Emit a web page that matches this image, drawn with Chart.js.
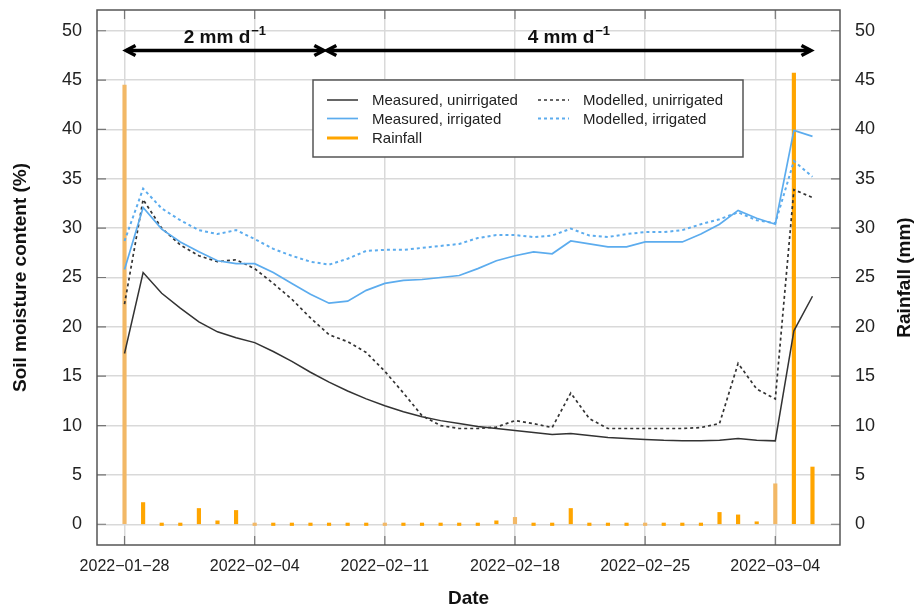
<!DOCTYPE html>
<html>
<head>
<meta charset="utf-8">
<script src="https://cdn.jsdelivr.net/npm/chart.js@4.4.1/dist/chart.umd.min.js"></script>
<style>
  html, body { margin: 0; padding: 0; background: #fff; }
</style>
</head>
<body>
<canvas id="soilChart" width="918" height="606"></canvas>
<script>
// daily dates, 2022-01-28 .. 2022-03-06
const dates = [
  "2022-01-28", "2022-01-29", "2022-01-30", "2022-01-31", "2022-02-01", "2022-02-02", "2022-02-03",
  "2022-02-04", "2022-02-05", "2022-02-06", "2022-02-07", "2022-02-08", "2022-02-09", "2022-02-10",
  "2022-02-11", "2022-02-12", "2022-02-13", "2022-02-14", "2022-02-15", "2022-02-16", "2022-02-17",
  "2022-02-18", "2022-02-19", "2022-02-20", "2022-02-21", "2022-02-22", "2022-02-23", "2022-02-24",
  "2022-02-25", "2022-02-26", "2022-02-27", "2022-02-28", "2022-03-01", "2022-03-02", "2022-03-03",
  "2022-03-04", "2022-03-05", "2022-03-06"
];
const measuredUnirrigated = [
  17.3, 25.5, 23.4, 21.9, 20.5, 19.5, 18.9, 18.4, 17.5, 16.5, 15.4, 14.4, 13.5, 12.7,
  12.0, 11.4, 10.9, 10.5, 10.2, 9.9, 9.7, 9.5, 9.3, 9.1, 9.2, 9.0, 8.8, 8.7,
  8.6, 8.5, 8.45, 8.45, 8.5, 8.7, 8.5, 8.45, 19.6, 23.1
];
const modelledUnirrigated = [
  22.3, 32.9, 30.0, 28.3, 27.2, 26.6, 26.8, 25.9, 24.4, 22.8, 20.9, 19.2, 18.5, 17.4,
  15.5, 13.3, 11.0, 10.0, 9.7, 9.7, 9.85, 10.5, 10.2, 9.8, 13.3, 10.7, 9.7, 9.7,
  9.7, 9.7, 9.7, 9.8, 10.2, 16.3, 13.7, 12.7, 33.9, 33.1
];
const measuredIrrigated = [
  25.8, 32.1, 29.9, 28.6, 27.6, 26.7, 26.4, 26.4, 25.5, 24.4, 23.3, 22.4, 22.6, 23.7,
  24.4, 24.7, 24.8, 25.0, 25.2, 25.9, 26.7, 27.2, 27.6, 27.4, 28.7, 28.4, 28.1, 28.1,
  28.6, 28.6, 28.6, 29.4, 30.4, 31.8, 31.0, 30.4, 39.9, 39.3
];
const modelledIrrigated = [
  28.7, 34.0, 32.0, 30.8, 29.8, 29.4, 29.8, 28.9, 27.9, 27.2, 26.6, 26.3, 26.9, 27.7,
  27.8, 27.8, 28.0, 28.2, 28.4, 29.0, 29.3, 29.3, 29.1, 29.25, 29.95, 29.25, 29.1, 29.4,
  29.6, 29.6, 29.8, 30.4, 30.9, 31.6, 30.8, 30.5, 36.8, 35.2
];
const rainfall = [
  44.5, 2.2, 0, 0, 1.6, 0.35, 1.4, 0, 0, 0, 0, 0, 0, 0,
  0, 0, 0, 0, 0, 0, 0.35, 0.7, 0, 0, 1.6, 0, 0, 0,
  0, 0, 0, 0, 1.2, 0.95, 0.2, 4.1, 45.7, 5.8
];
const dateTicks = ["2022-01-28", "2022-02-04", "2022-02-11", "2022-02-18", "2022-02-25", "2022-03-04"];
const yTicks = [0, 5, 10, 15, 20, 25, 30, 35, 40, 45, 50];
// irrigation periods: [from day, to day, label]
const periods = [[0, 10.8, "2 mm d"], [10.8, 37, "4 mm d"]];

const FONT = "'Liberation Sans', Arial, sans-serif";
const BLUE = "#5CACEE";
const DARK = "#333333";
const ORANGE = "#FFA500";

const pts = arr => arr.map((v, i) => ({ x: i, y: v }));
const tickIdx = dateTicks.map(d => dates.indexOf(d));

const decor = {
  id: "decor",
  afterDraw(chart) {
    const c = chart.ctx;
    const a = chart.chartArea;
    const xs = chart.scales.x, ys = chart.scales.y;
    c.save();

    // inward tick marks
    c.strokeStyle = "#777";
    c.lineWidth = 1.2;
    c.beginPath();
    yTicks.forEach(v => {
      const py = ys.getPixelForValue(v);
      c.moveTo(a.left, py); c.lineTo(a.left + 9, py);
      c.moveTo(a.right, py); c.lineTo(a.right - 9, py);
    });
    tickIdx.forEach(v => {
      const px = xs.getPixelForValue(v);
      c.moveTo(px, a.top); c.lineTo(px, a.top + 9);
      c.moveTo(px, a.bottom); c.lineTo(px, a.bottom - 9);
    });
    c.stroke();

    // box
    c.strokeStyle = "#555";
    c.lineWidth = 1.5;
    c.strokeRect(a.left, a.top, a.right - a.left, a.bottom - a.top);

    // irrigation arrows
    const ay = ys.getPixelForValue(48);
    c.strokeStyle = "#000";
    c.fillStyle = "#000";
    c.lineWidth = 3.5;
    c.lineJoin = "miter";
    periods.forEach(([d0, d1, txt]) => {
      const x0 = xs.getPixelForValue(d0), x1 = xs.getPixelForValue(d1);
      c.beginPath();
      c.moveTo(x0 + 2, ay); c.lineTo(x1 - 2, ay);
      c.stroke();
      [[x0, 1], [x1, -1]].forEach(([tx, dir]) => {
        c.beginPath();
        c.moveTo(tx + dir * 11, ay - 5);
        c.lineTo(tx + dir * 1.5, ay);
        c.lineTo(tx + dir * 11, ay + 5);
        c.stroke();
      });
      c.font = "bold 19px " + FONT;
      const w1 = c.measureText(txt).width;
      c.font = "bold 13px " + FONT;
      const w2 = c.measureText("\u22121").width;
      const sx = (x0 + x1) / 2 - (w1 + w2 + 1) / 2;
      c.textBaseline = "alphabetic";
      c.textAlign = "left";
      c.font = "bold 19px " + FONT;
      c.fillStyle = "#111";
      c.fillText(txt, sx, ay - 7);
      c.font = "bold 13px " + FONT;
      c.fillText("\u22121", sx + w1 + 1, ay - 15);
    });

    // legend
    const lx = 313, ly = 80, lw = 430, lh = 77;
    c.fillStyle = "#fff";
    c.fillRect(lx, ly, lw, lh);
    c.strokeStyle = "#555";
    c.lineWidth = 1.5;
    c.strokeRect(lx, ly, lw, lh);
    const items = chart.data.datasets.map(ds => ds);
    const slots = [[327, 100], [538, 100], [327, 118.5], [538, 118.5], [327, 138]];
    c.font = "15px " + FONT;
    c.textBaseline = "middle";
    items.forEach((ds, i) => {
      const [sx, sy] = slots[i];
      c.beginPath();
      c.strokeStyle = ds.type === "bar" ? ORANGE : ds.borderColor;
      c.lineWidth = ds.type === "bar" ? 3 : ds.borderWidth;
      c.setLineDash(ds.borderDash || []);
      c.moveTo(sx, sy); c.lineTo(sx + 31, sy);
      c.stroke();
      c.setLineDash([]);
      c.fillStyle = "#222";
      c.fillText(ds.label, sx + 45, sy + 1);
    });

    // axis titles
    c.fillStyle = "#111";
    c.font = "bold 19px " + FONT;
    c.textAlign = "center";
    c.textBaseline = "middle";
    const midY = (a.top + a.bottom) / 2;
    c.save();
    c.translate(21, midY);
    c.rotate(-Math.PI / 2);
    c.fillText("Soil moisture content (%)", 0, 0);
    c.restore();
    c.save();
    c.translate(905, midY);
    c.rotate(-Math.PI / 2);
    c.fillText("Rainfall (mm)", 0, 0);
    c.restore();
    c.textBaseline = "alphabetic";
    c.fillText("Date", (a.left + a.right) / 2, 604);

    c.restore();
  }
};

const fitY = w => s => { s.width = w; s.paddingTop = 0; s.paddingBottom = 0; };

const ctx = document.getElementById("soilChart").getContext("2d");
const soilChart = new Chart(ctx, {
  type: "line",
  data: {
    datasets: [
      {
        type: "line",
        label: "Measured, unirrigated",
        data: pts(measuredUnirrigated),
        borderColor: DARK,
        borderWidth: 1.5,
        pointRadius: 0,
        yAxisID: "y",
        order: 1,
      },
      {
        type: "line",
        label: "Modelled, unirrigated",
        data: pts(modelledUnirrigated),
        borderColor: DARK,
        borderWidth: 1.7,
        borderDash: [3, 3],
        pointRadius: 0,
        yAxisID: "y",
        order: 2,
      },
      {
        type: "line",
        label: "Measured, irrigated",
        data: pts(measuredIrrigated),
        borderColor: BLUE,
        borderWidth: 1.7,
        pointRadius: 0,
        yAxisID: "y",
        order: 0,
      },
      {
        type: "line",
        label: "Modelled, irrigated",
        data: pts(modelledIrrigated),
        borderColor: BLUE,
        borderWidth: 2,
        borderDash: [3, 3],
        pointRadius: 0,
        yAxisID: "y",
        order: 3,
      },
      {
        type: "bar",
        label: "Rainfall",
        data: pts(rainfall),
        backgroundColor: rainfall.map((v, i) => (tickIdx.includes(i) ? "#F2B866" : ORANGE)),
        borderWidth: 0,
        barThickness: 3.5,
        minBarLength: 2.5,
        yAxisID: "y1",
        order: 10,
      },
    ],
  },
  options: {
    responsive: false,
    animation: false,
    layout: { padding: { top: 10, left: 0, right: 0, bottom: 0 } },
    plugins: {
      legend: { display: false },
      tooltip: { enabled: false },
    },
    scales: {
      x: {
        type: "linear",
        min: -1.48,
        max: 38.48,
        offset: false,
        afterBuildTicks: s => { s.ticks = tickIdx.map(v => ({ value: v })); },
        afterFit: s => { s.height = 61; s.paddingLeft = 0; s.paddingRight = 0; },
        ticks: {
          callback: v => dates[v].replace(/-/g, "\u2212"),
          font: { family: FONT, size: 16 },
          color: "#222",
          padding: 12,
          maxRotation: 0,
          autoSkip: false,
        },
        grid: { color: "#d9d9d9", lineWidth: 1.5, drawTicks: false, offset: false },
        border: { display: false },
      },
      y: {
        position: "left",
        min: -2.1,
        max: 52.1,
        afterBuildTicks: s => { s.ticks = yTicks.map(v => ({ value: v })); },
        afterFit: fitY(97),
        ticks: {
          font: { family: FONT, size: 18 },
          color: "#222",
          padding: 15,
        },
        grid: { color: "#d9d9d9", lineWidth: 1.5, drawTicks: false },
        border: { display: false },
      },
      y1: {
        position: "right",
        min: -2.1,
        max: 52.1,
        afterBuildTicks: s => { s.ticks = yTicks.map(v => ({ value: v })); },
        afterFit: fitY(78),
        ticks: {
          font: { family: FONT, size: 18 },
          color: "#222",
          padding: 15,
        },
        grid: { drawOnChartArea: false, drawTicks: false },
        border: { display: false },
      },
    },
  },
  plugins: [decor],
});
</script>
</body>
</html>
